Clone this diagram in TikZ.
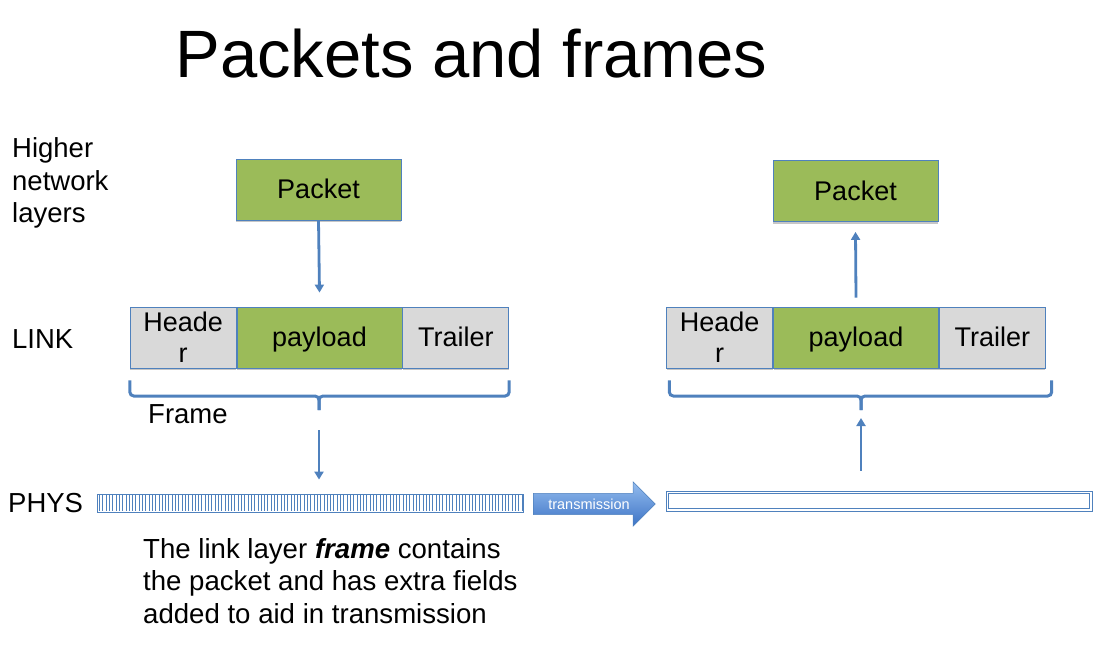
\documentclass[tikz,border=0pt]{standalone}
\usepackage{fontspec}
\setmainfont{Liberation Sans}
\usetikzlibrary{positioning,arrows.meta,shapes.arrows,shadows}
\definecolor{grn}{HTML}{9BBB59}
\definecolor{bord}{HTML}{4F81BD}
\definecolor{gry}{HTML}{D9D9D9}
\definecolor{txtop}{HTML}{94BCEE}
\definecolor{txbot}{HTML}{3D74C6}
\begin{document}
\begin{tikzpicture}[x=1pt,y=-1pt]
\tikzstyle{box}=[rectangle,draw=bord,line width=0.8pt,minimum height=61pt,inner sep=0pt,font=\fontsize{27}{31}\selectfont,drop shadow={shadow xshift=0pt,shadow yshift=-2pt,fill=gray!45,opacity=1}]
\tikzstyle{pkt}=[box,fill=grn,minimum width=165pt,text height=20pt,text depth=2pt]
\tikzstyle{field}=[box,fill=gry,minimum width=106pt,align=center]
\tikzstyle{lbl}=[anchor=west,align=left,inner sep=0pt,font=\fontsize{27.5}{32.5}\selectfont]
\tikzstyle{flow}=[draw=bord,line width=2.8pt,-{Triangle[width=9pt,length=8pt]}]
\tikzstyle{brc}=[draw=bord,line width=3pt,rounded corners=4pt]
\useasboundingbox (0,0) rectangle (1100,650);
% title and layer names
\node [anchor=base,inner sep=0pt] (title) at (471.5,78) {\fontsize{67}{72}\selectfont Packets and frames};
\node [lbl] (higher) at (12,183) {Higher\\network\\layers};
\node [lbl] (link) at (12,339) {LINK};
\node [lbl] (phys) at (8,503) {PHYS};
% sending side
\node [pkt] (pktL) at (318.5,189.5) {Packet};
\node [pkt] (payL) at (319.5,337.5) {payload};
\node [field,left=0pt of payL] (hdrL) {Heade\\r};
\node [field,right=0pt of payL,text height=20pt,text depth=2pt] (trlL) {Trailer};
\coordinate (tipL) at (319,410);
\draw [brc] ([yshift=-12pt]hdrL.south west) |- ([yshift=14pt]tipL) -- (tipL);
\draw [brc] ([yshift=-12pt]trlL.south east) |- ([yshift=14pt]tipL) -- (tipL);
\node [lbl] (frame) at (148,414) {Frame};
\node [rectangle,draw=bord,line width=0.8pt,fill=white,minimum width=426pt,minimum height=18pt,inner sep=0pt] (physL) at (310,503) {};
\foreach \x in {99.5,102.8,...,522} \draw [bord,line width=0.7pt] (\x,495) -- (\x,511);
\draw [flow] (pktL.south) -- ([yshift=14pt]payL.north);
\draw [flow] ([yshift=-20pt]tipL) -- ([yshift=14pt]tipL |- physL.north);
% transmission
\node [single arrow,single arrow head extend=11.5pt,minimum height=122pt,inner xsep=3pt,inner ysep=5pt,draw=bord,line width=0.6pt,top color=txtop,bottom color=txbot,text=white,font=\fontsize{14.5}{16}\selectfont] (tx) at (589,504) {transmission};
% receiving side
\node [rectangle,draw=bord,line width=0.9pt,fill=white,minimum width=426pt,minimum height=20pt,inner sep=0pt] (physR) at (879,501) {};
\draw [bord,line width=0.9pt] ([xshift=3pt,yshift=-3pt]physR.north west) rectangle ([xshift=-3pt,yshift=3pt]physR.south east);
\node [pkt] (pktR) at (855.5,191) {Packet};
\node [pkt] (payR) at (856,337.5) {payload};
\node [field,left=0pt of payR] (hdrR) {Heade\\r};
\node [field,right=0pt of payR,text height=20pt,text depth=2pt] (trlR) {Trailer};
\coordinate (tipR) at (861,410);
\draw [brc] ([xshift=3pt,yshift=-12pt]hdrR.south west) |- ([yshift=14pt]tipR) -- (tipR);
\draw [brc] ([xshift=6pt,yshift=-12pt]trlR.south east) |- ([yshift=14pt]tipR) -- (tipR);
\draw [flow] ([yshift=20pt]tipR |- physR.north) -- ([yshift=-8pt]tipR);
\draw [flow] ([yshift=9pt]payR.north) -- ([yshift=-10pt]pktR.south);
% note
\node [lbl,font=\fontsize{27.6}{32.5}\selectfont] (note) at (143,581) {The link layer \textbf{\textit{frame}} contains\\the packet and has extra fields\\added to aid in transmission};
\end{tikzpicture}
\end{document}
